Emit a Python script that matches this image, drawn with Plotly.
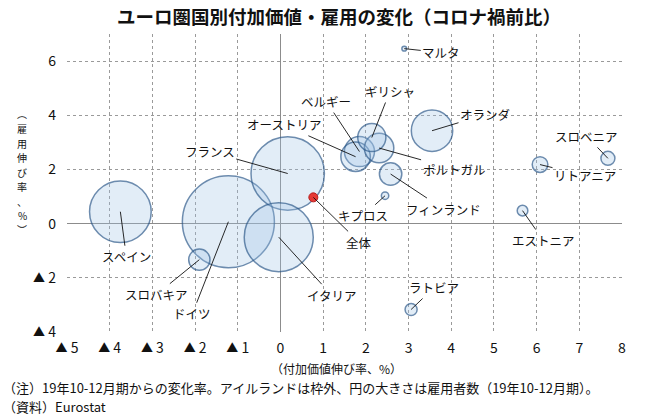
import plotly.graph_objects as go

# ---- data ----
countries = ["ドイツ", "フランス", "イタリア", "スペイン", "オランダ", "ベルギー", "オーストリア",
             "ポルトガル", "ギリシャ", "フィンランド", "スロバキア", "リトアニア", "スロベニア",
             "ラトビア", "エストニア", "キプロス", "マルタ"]
value_added = [-1.22, 0.17, -0.04, -3.75, 3.55, 1.85, 1.76, 2.31, 2.14, 2.58, -1.90,
               6.08, 7.67, 3.06, 5.67, 2.45, 2.90]
employment_growth = [0.07, 1.85, -0.50, 0.44, 3.43, 2.66, 2.47, 2.79, 3.18, 1.83, -1.33,
                     2.18, 2.41, -3.17, 0.48, 1.03, 6.46]
employees = [45.0, 28.6, 25.3, 20.2, 9.1, 4.8, 4.6, 4.6, 4.2, 2.66, 2.4,
             1.3, 1.04, 0.77, 0.6, 0.29, 0.12]
total_name = "全体"
total_va = [0.77]
total_emp = [0.97]

x_ticks = [-5, -4, -3, -2, -1, 0, 1, 2, 3, 4, 5, 6, 7, 8]
x_labels = ["▲5", "▲4", "▲3", "▲2", "▲1", "0", "1", "2", "3", "4", "5", "6", "7", "8"]
y_ticks = [-4, -2, 0, 2, 4, 6]
y_labels = ["▲4", "▲2", "0", "2", "4", "6"]

# label offsets (pixels) for leader lines
label_offsets = {
    "ドイツ": (-36, 92), "フランス": (-78, -22), "イタリア": (53, 58), "スペイン": (6, 45),
    "オランダ": (53, -16), "ベルギー": (-33, -50), "オーストリア": (-72, -32),
    "ポルトガル": (75, 21), "ギリシャ": (18, -46), "フィンランド": (53, 35),
    "スロバキア": (-43, 35), "リトアニア": (45, 11), "スロベニア": (-21, -22),
    "ラトビア": (23, -22), "エストニア": (21, 30), "キプロス": (-22, 20), "マルタ": (37, 4),
}

FONT = "Noto Sans CJK JP"
PL, PR, PT, PB = 67, 622, 34, 332   # plot area in pixels


def fmt_tick(t):
    if t.startswith("▲"):
        return "<span style='font-size:12px'>▲</span> " + t[1:]
    return t


def px_to_paper(px, py):
    return (px - PL) / (PR - PL), (PB - py) / (PB - PT)


fig = go.Figure()
fig.add_trace(go.Scatter(
    x=value_added, y=employment_growth, mode="markers", text=countries,
    marker=dict(size=employees, sizemode="area", sizeref=0.01063,
                color="rgba(160,196,232,0.42)",
                line=dict(color="#2E5B8C", width=1.5)),
    hoverinfo="text", showlegend=False,
))
fig.add_trace(go.Scatter(
    x=total_va, y=total_emp, mode="markers", text=[total_name],
    marker=dict(size=9, color="#E53935", line=dict(color="#B71C1C", width=1)),
    hoverinfo="text", showlegend=False,
))

annotations = []
for name, xv, yv in zip(countries, value_added, employment_growth):
    ax, ay = label_offsets[name]
    annotations.append(dict(x=xv, y=yv, xref="x", yref="y", text=name, showarrow=True,
                            arrowhead=0, arrowwidth=0.9, arrowcolor="#111", ax=ax, ay=ay,
                            font=dict(family=FONT, size=12.5, color="#111")))
annotations.append(dict(x=total_va[0], y=total_emp[0], xref="x", yref="y", text=total_name,
                        showarrow=True, arrowhead=0, arrowwidth=0.9, arrowcolor="#111",
                        ax=46, ay=45, font=dict(family=FONT, size=12.5, color="#111")))

# vertical y-axis title (upright characters, one per line)
ytitle_chars = ["︵", "雇", "用", "伸", "び", "率", "、", "%", "︶"]
step = 14.5
first = 172 - step * (len(ytitle_chars) - 1) / 2
for i, ch in enumerate(ytitle_chars):
    xp, yp = px_to_paper(22, first + i * step)
    annotations.append(dict(x=xp, y=yp, xref="paper", yref="paper", text=ch,
                            showarrow=False, font=dict(family=FONT, size=10, color="#111"),
                            xanchor="center", yanchor="middle"))

xp, yp = px_to_paper(336, 368.5)
annotations.append(dict(x=xp, y=yp, xref="paper", yref="paper", text="（付加価値伸び率、%）",
                        showarrow=False, font=dict(family=FONT, size=12, color="#111"),
                        xanchor="center", yanchor="middle"))
xp, yp = px_to_paper(1, 387.5)
annotations.append(dict(x=xp, y=yp, xref="paper", yref="paper",
                        text="（注）19年10-12月期からの変化率。アイルランドは枠外、円の大きさは雇用者数（19年10-12月期）。",
                        showarrow=False, font=dict(family=FONT, size=13, color="#111"),
                        xanchor="left", yanchor="middle"))
xp, yp = px_to_paper(1, 406.5)
annotations.append(dict(x=xp, y=yp, xref="paper", yref="paper", text="（資料）Eurostat",
                        showarrow=False, font=dict(family=FONT, size=13, color="#111"),
                        xanchor="left", yanchor="middle"))

fig.update_layout(
    width=651, height=416,
    margin=dict(l=PL, r=651 - PR, t=PT, b=416 - PB),
    paper_bgcolor="white", plot_bgcolor="white",
    title=dict(text="<b>ユーロ圏国別付加価値・雇用の変化（コロナ禍前比）</b>",
               x=339 / 651, xanchor="center", y=1 - 18 / 416, yanchor="middle",
               font=dict(family=FONT, size=18.5, color="#111")),
    annotations=annotations,
    font=dict(family=FONT, color="#111"),
)
fig.update_xaxes(range=[-5, 8], tickvals=x_ticks, ticktext=[fmt_tick(t) for t in x_labels],
                 showgrid=True, gridcolor="#9a9a9a", griddash="dot", gridwidth=1,
                 zeroline=True, zerolinecolor="#8c8c8c", zerolinewidth=1.2,
                 showline=False, ticks="", ticklabelstandoff=6,
                 tickfont=dict(family=FONT, size=14, color="#111"))
fig.update_yaxes(range=[-4, 7], tickvals=y_ticks, ticktext=[fmt_tick(t) for t in y_labels],
                 showgrid=True, gridcolor="#9a9a9a", griddash="dot", gridwidth=1,
                 zeroline=True, zerolinecolor="#8c8c8c", zerolinewidth=1.2,
                 showline=False, ticks="", ticklabelstandoff=10,
                 tickfont=dict(family=FONT, size=14, color="#111"))

fig.write_html("out.html")
